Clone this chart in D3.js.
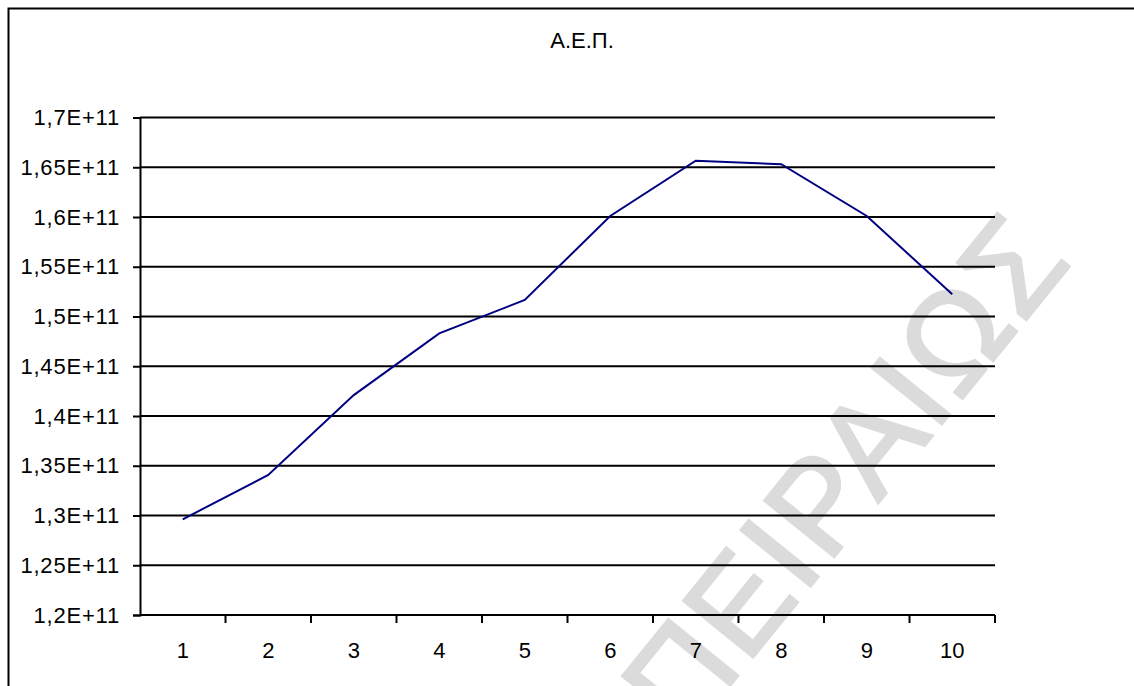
<!DOCTYPE html>
<html>
<head>
<meta charset="utf-8">
<script src="https://cdn.jsdelivr.net/npm/d3@7"></script>
<style>
  html, body { margin: 0; padding: 0; background: #fff; }
  svg { display: block; font-family: "Liberation Sans", Arial, sans-serif; }
</style>
</head>
<body>
<svg id="chart" width="1134" height="686"></svg>
<script>
// Annual GDP (Α.Ε.Π.) for periods 1..10
const categories = ["1", "2", "3", "4", "5", "6", "7", "8", "9", "10"];
const gdpValues = [1.2962e11, 1.3407e11, 1.421e11, 1.483e11, 1.5166e11,
                   1.601e11, 1.6566e11, 1.653e11, 1.601e11, 1.5223e11];
const yTicks = [1.2e11, 1.25e11, 1.3e11, 1.35e11, 1.4e11, 1.45e11,
                1.5e11, 1.55e11, 1.6e11, 1.65e11, 1.7e11];
const titleText = "Α.Ε.Π.";
const watermarkText = "ΠΕΙΡΑΙΩΣ";

const svg = d3.select("#chart");
const plot = { left: 140, right: 995, top: 117.5, bottom: 615 };

// Outer frame (runs off the right and bottom edges)
svg.append("rect")
  .attr("x", 8.5).attr("y", 8.5)
  .attr("width", 1200).attr("height", 800)
  .attr("fill", "#fff")
  .attr("stroke", "#000").attr("stroke-width", 2);

// Faint diagonal watermark behind the chart
svg.append("text")
  .attr("transform", "translate(845,472) rotate(-51)")
  .attr("text-anchor", "middle")
  .attr("dominant-baseline", "central")
  .attr("font-size", 130)
  .attr("letter-spacing", 3)
  .attr("fill", "#dbdbdb")
  .attr("stroke", "#dbdbdb")
  .attr("stroke-width", 3)
  .attr("stroke-linejoin", "miter")
  .text(watermarkText);

const x = d3.scaleBand().domain(categories).range([plot.left, plot.right]);
const y = d3.scaleLinear().domain([1.2e11, 1.7e11]).range([plot.bottom, plot.top]);

const fmt = v => {
  const m = +(v / 1e11).toFixed(2);
  return String(m).replace(".", ",") + "E+11";
};

// Horizontal gridlines
svg.append("g")
  .selectAll("line")
  .data(yTicks.slice(1))
  .join("line")
  .attr("x1", plot.left).attr("x2", plot.right)
  .attr("y1", d => y(d)).attr("y2", d => y(d))
  .attr("stroke", "#000").attr("stroke-width", 2);

// Y axis
const yAxis = svg.append("g")
  .attr("transform", `translate(${plot.left},0)`)
  .call(d3.axisLeft(y).tickValues(yTicks).tickFormat(fmt).tickSize(7).tickPadding(13));
yAxis.select(".domain").attr("stroke-width", 2);
yAxis.selectAll(".tick line").attr("stroke-width", 2);
yAxis.selectAll(".tick text")
  .attr("font-size", 22)
  .attr("letter-spacing", 0.8)
  .attr("font-family", "Liberation Sans, Arial, sans-serif")
  .attr("fill", "#000");

// X axis with ticks at the category boundaries
const xAxisG = svg.append("g")
  .attr("transform", `translate(0,${plot.bottom})`);
xAxisG.append("line")
  .attr("x1", plot.left).attr("x2", plot.right)
  .attr("y1", 0).attr("y2", 0)
  .attr("stroke", "#000").attr("stroke-width", 2);
const boundaries = categories.map(c => x(c) + x.bandwidth());
xAxisG.selectAll("line.tk")
  .data(boundaries)
  .join("line")
  .attr("class", "tk")
  .attr("x1", d => d).attr("x2", d => d)
  .attr("y1", 0).attr("y2", 8)
  .attr("stroke", "#000").attr("stroke-width", 2);
xAxisG.selectAll("text")
  .data(categories)
  .join("text")
  .attr("x", d => x(d) + x.bandwidth() / 2)
  .attr("y", 43)
  .attr("text-anchor", "middle")
  .attr("font-size", 22)
  .attr("fill", "#000")
  .text(d => d);

// GDP line
const line = d3.line()
  .x((d, i) => x(categories[i]) + x.bandwidth() / 2)
  .y(d => y(d));
svg.append("path")
  .datum(gdpValues)
  .attr("d", line)
  .attr("fill", "none")
  .attr("stroke", "#000080")
  .attr("stroke-width", 2);

// Title
svg.append("text")
  .attr("x", 582).attr("y", 48)
  .attr("text-anchor", "middle")
  .attr("font-size", 22)
  .attr("fill", "#000")
  .text(titleText);
</script>
</body>
</html>
